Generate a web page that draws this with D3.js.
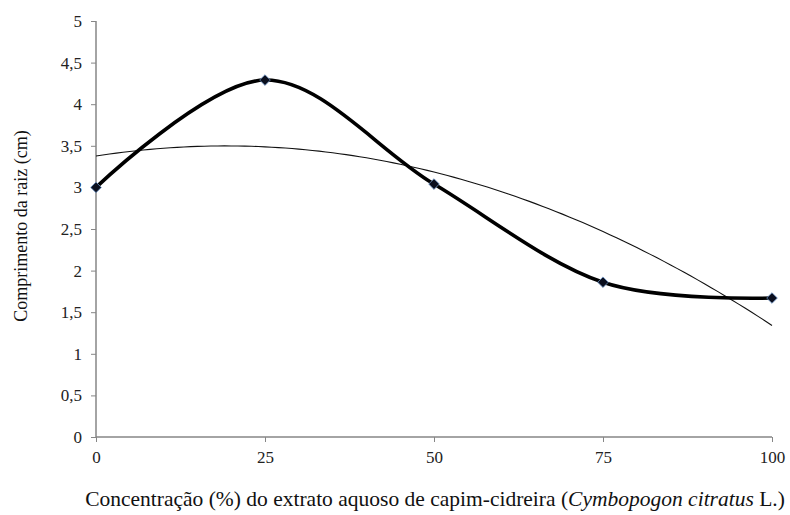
<!DOCTYPE html>
<html>
<head>
<meta charset="utf-8">
<script src="https://cdn.jsdelivr.net/npm/d3@7"></script>
<style>
  html, body { margin: 0; padding: 0; background: #fff; }
  svg { display: block; }
  svg text { font-family: "Liberation Serif", "DejaVu Serif", serif; }
</style>
</head>
<body>
<svg id="chart" width="790" height="515"></svg>
<script>
// Concentration of lemongrass aqueous extract (%) and mean root length (cm)
const concentrations = [0, 25, 50, 75, 100];
const rootLength = [3.0, 4.29, 3.04, 1.86, 1.67];
const xTicks = [0, 25, 50, 75, 100];
const yTicks = [0, 0.5, 1, 1.5, 2, 2.5, 3, 3.5, 4, 4.5, 5];

const svg = d3.select("#chart");
const plotLeft = 96, plotRight = 772, plotTop = 21, plotBottom = 437;

const x = d3.scaleLinear().domain([0, 100]).range([plotLeft, plotRight]);
const y = d3.scaleLinear().domain([0, 5]).range([plotBottom, plotTop]);

const fmt = v => String(v).replace(".", ",");
const serif = "Liberation Serif, DejaVu Serif, serif";
const axisColor = "#868686";

// Y axis
const yAxis = svg.append("g")
  .attr("transform", `translate(${plotLeft},0)`)
  .call(d3.axisLeft(y).tickValues(yTicks).tickFormat(fmt).tickSize(5).tickPadding(9));
// X axis
const xAxis = svg.append("g")
  .attr("transform", `translate(0,${plotBottom})`)
  .call(d3.axisBottom(x).tickValues(xTicks).tickFormat(fmt).tickSize(5).tickPadding(9));

[yAxis, xAxis].forEach(g => {
  g.attr("font-family", null).attr("font-size", null);
  g.select(".domain").attr("stroke", axisColor).attr("stroke-width", 1.5);
  g.selectAll(".tick line").attr("stroke", axisColor).attr("stroke-width", 1);
  g.selectAll(".tick text")
    .attr("fill", "#222")
    .style("font-family", serif)
    .style("font-size", "17px");
});
// plain axis lines without d3's end caps
yAxis.select(".domain").attr("d", `M0,${plotTop}V${plotBottom}`);
xAxis.select(".domain").attr("d", `M${plotLeft},0H${plotRight}`);

// Quadratic least-squares trend line of the observed series
function polyFit2(xs, ys) {
  const n = xs.length;
  const s = [0, 0, 0, 0, 0], t = [0, 0, 0];
  for (let i = 0; i < n; i++) {
    let p = 1;
    for (let k = 0; k < 5; k++) { s[k] += p; if (k < 3) t[k] += p * ys[i]; p *= xs[i]; }
  }
  const A = [[s[0], s[1], s[2], t[0]], [s[1], s[2], s[3], t[1]], [s[2], s[3], s[4], t[2]]];
  for (let i = 0; i < 3; i++) {
    for (let j = i + 1; j < 3; j++) {
      const f = A[j][i] / A[i][i];
      for (let k = i; k < 4; k++) A[j][k] -= f * A[i][k];
    }
  }
  const c = [0, 0, 0];
  for (let i = 2; i >= 0; i--) {
    let v = A[i][3];
    for (let k = i + 1; k < 3; k++) v -= A[i][k] * c[k];
    c[i] = v / A[i][i];
  }
  return c;
}
const coef = polyFit2(concentrations, rootLength);
const trend = d3.range(0, 100.01, 1).map(v => [v, coef[0] + coef[1] * v + coef[2] * v * v]);

svg.append("path")
  .datum(trend)
  .attr("fill", "none")
  .attr("stroke", "#111")
  .attr("stroke-width", 1.1)
  .attr("d", d3.line().x(d => x(d[0])).y(d => y(d[1])));

// Smoothed data line
const pts = concentrations.map((c, i) => [c, rootLength[i]]);
svg.append("path")
  .datum(pts)
  .attr("fill", "none")
  .attr("stroke", "#000")
  .attr("stroke-width", 3.6)
  .attr("stroke-linejoin", "round")
  .attr("d", d3.line().x(d => x(d[0])).y(d => y(d[1])).curve(d3.curveCardinal.tension(0)));

// Diamond markers
svg.append("g").selectAll("path")
  .data(pts)
  .join("path")
  .attr("transform", d => `translate(${x(d[0])},${y(d[1])})`)
  .attr("d", d3.symbol().type(d3.symbolDiamond2).size(72))
  .attr("fill", "#0b0f1e")
  .attr("stroke", "#6f95c8")
  .attr("stroke-width", 0.8);

// Axis titles
svg.append("text")
  .attr("transform", `translate(27,226) rotate(-90)`)
  .attr("text-anchor", "middle")
  .attr("fill", "#111")
  .style("font-family", serif)
  .style("font-size", "18px")
  .text("Comprimento da raiz (cm)");

const xt = svg.append("text")
  .attr("x", 435)
  .attr("y", 506)
  .attr("text-anchor", "middle")
  .attr("fill", "#111")
  .style("font-family", serif)
  .style("font-size", "21.5px");
xt.append("tspan").text("Concentração (%) do extrato aquoso de capim-cidreira (");
xt.append("tspan").style("font-style", "italic").text("Cymbopogon citratus");
xt.append("tspan").text(" L.)");
</script>
</body>
</html>
